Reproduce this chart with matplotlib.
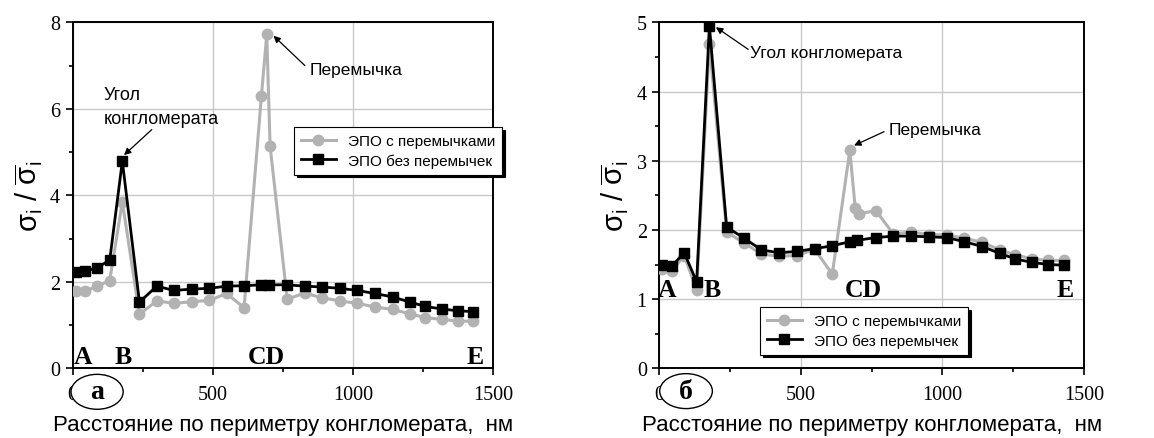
import matplotlib.pyplot as plt
from matplotlib.patches import Ellipse
from matplotlib import font_manager

# x positions along perimeter (nm)
x_gray = [10, 45, 88, 132, 177, 238, 300, 361, 424, 487, 549, 611, 673, 692, 704,
          765, 827, 889, 952, 1015, 1077, 1141, 1203, 1258, 1317, 1374, 1429]
x_black = [10, 45, 88, 132, 177, 238, 300, 361, 424, 487, 549, 611, 673, 700,
           765, 827, 889, 952, 1015, 1077, 1141, 1203, 1258, 1317, 1374, 1429]

# panel a
a_gray = [1.79, 1.79, 1.90, 2.03, 3.85, 1.25, 1.56, 1.50, 1.54, 1.57, 1.73, 1.40,
          6.30, 7.72, 5.13, 1.60, 1.74, 1.63, 1.56, 1.50, 1.42, 1.36, 1.26, 1.17,
          1.13, 1.09, 1.09]
a_black = [2.22, 2.24, 2.33, 2.50, 4.79, 1.53, 1.90, 1.80, 1.83, 1.85, 1.90, 1.91,
           1.93, 1.93, 1.93, 1.90, 1.88, 1.85, 1.80, 1.73, 1.65, 1.53, 1.43, 1.37,
           1.33, 1.31]

# panel b
b_gray = [1.44, 1.41, 1.63, 1.13, 4.69, 1.97, 1.81, 1.65, 1.62, 1.63, 1.72, 1.36,
          3.15, 2.32, 2.23, 2.28, 1.94, 1.97, 1.93, 1.93, 1.88, 1.82, 1.71, 1.64,
          1.58, 1.56, 1.56]
b_black = [1.50, 1.48, 1.67, 1.25, 4.95, 2.04, 1.88, 1.71, 1.67, 1.69, 1.73, 1.77,
           1.83, 1.85, 1.89, 1.91, 1.91, 1.90, 1.89, 1.83, 1.76, 1.66, 1.58, 1.53,
           1.50, 1.49]

labels = ['ЭПО с перемычками', 'ЭПО без перемычек']
xlabel = 'Расстояние по периметру конгломерата,  нм'

names = {f.name for f in font_manager.fontManager.ttflist}
sans = 'Liberation Sans Narrow' if 'Liberation Sans Narrow' in names else 'Liberation Sans'
serif = 'Liberation Serif'
plt.rcParams['mathtext.fontset'] = 'custom'
plt.rcParams['mathtext.rm'] = 'Liberation Sans'
plt.rcParams['mathtext.it'] = 'Liberation Sans'

fig = plt.figure(figsize=(11.54, 4.39), dpi=100)
axa = fig.add_axes([0.0630, 0.1588, 0.3645, 0.788])
axb = fig.add_axes([0.5713, 0.1588, 0.368, 0.788])

gray = '#b2b2b2'


def draw(ax, yg, yb, ymax, yminor, leg_xy, letter, ell_xy):
    ax.plot(x_gray, yg, color=gray, lw=2.2, marker='o', ms=7.5, zorder=3, label=labels[0])
    ax.plot(x_black, yb, color='black', lw=2.0, marker='s', ms=6.5, zorder=4, label=labels[1])
    ax.set_xlim(0, 1500)
    ax.set_ylim(0, ymax)
    ax.set_xticks([0, 500, 1000, 1500])
    ax.set_xticks([250, 750, 1250], minor=True)
    ax.set_yticks(range(0, ymax + 1, 2 if ymax == 8 else 1))
    ax.set_yticks([v for v in yminor], minor=True)
    ax.grid(True, which='major', color='#c8c8c8', lw=1.0, zorder=0)
    ax.tick_params(which='both', direction='out', top=False, right=False, width=1.2)
    ax.tick_params(which='major', length=5, labelsize=14.5)
    ax.tick_params(axis='x', which='major', pad=7)
    ax.tick_params(axis='y', which='major', pad=4)
    ax.tick_params(which='minor', length=3)
    for t in ax.get_xticklabels() + ax.get_yticklabels():
        t.set_fontfamily(serif)
    for s in ax.spines.values():
        s.set_linewidth(1.4)
    ax.set_xlabel(xlabel, fontsize=16, family=sans, labelpad=7)
    ax.set_ylabel(r'$\mathrm{σ}_{\mathrm{i}}\ /\ \overline{\mathrm{σ}}_{\mathrm{i}}$',
                  fontsize=21, labelpad=4)
    leg = ax.legend(loc='upper left', bbox_to_anchor=leg_xy, borderaxespad=0,
                    prop={'family': sans, 'size': 11}, frameon=True, fancybox=False,
                    edgecolor='black', framealpha=1, handlelength=2.3, labelspacing=0.35,
                    borderpad=0.45, shadow={'color': 'black', 'alpha': 1})
    leg.get_frame().set_linewidth(0.8)
    leg.set_zorder(10)
    e = Ellipse(ell_xy, 0.124, 0.101, transform=ax.transAxes, facecolor='white',
                edgecolor='black', lw=1.0, clip_on=False, zorder=20)
    ax.add_patch(e)
    ax.text(ell_xy[0], ell_xy[1], letter, transform=ax.transAxes, ha='center', va='center',
            fontsize=20, fontweight='bold', family=serif, zorder=21, clip_on=False)


draw(axa, a_gray, a_black, 8, [1, 3, 5, 7], (0.526, 0.697), 'а', (0.058, -0.068))
draw(axb, b_gray, b_black, 5, [0.5, 1.5, 2.5, 3.5, 4.5], (0.237, 0.177), 'б', (0.063, -0.066))

pt_kw = dict(fontsize=18.5, fontweight='bold', family=serif, ha='center', va='baseline', zorder=6)
for ax, ys, pos in [(axa, 0.12, [38, 181, 692, 1435]), (axb, 1.04, [28, 188, 720, 1433])]:
    for name, xp in zip(['A', 'B', 'CD', 'E'], pos):
        ax.text(xp, ys, name, **pt_kw)

arr = dict(arrowstyle='-|>', color='black', lw=0.9, mutation_scale=10, shrinkA=0, shrinkB=0)
axa.annotate('Угол\nконгломерата', xy=(183, 4.93), xytext=(109, 6.05), fontsize=13,
             family=sans, ha='left', va='center', linespacing=1.5)
axa.annotate('', xy=(183, 4.93), xytext=(282, 5.52), arrowprops=arr)
axa.annotate('Перемычка', xy=(716, 7.69), xytext=(844, 6.91), fontsize=12.5, family=sans,
             ha='left', va='center')
axa.annotate('', xy=(716, 7.69), xytext=(828, 7.0), arrowprops=arr)

axb.annotate('Угол конгломерата', xy=(200, 4.93), xytext=(320, 4.57), fontsize=12.5,
             family=sans, ha='left', va='center')
axb.annotate('', xy=(200, 4.93), xytext=(314, 4.61), arrowprops=arr)
axb.annotate('Перемычка', xy=(688, 3.22), xytext=(809, 3.45), fontsize=12.5, family=sans,
             ha='left', va='center')
axb.annotate('', xy=(688, 3.22), xytext=(794, 3.42), arrowprops=arr)

fig.savefig('out.png', dpi=100)
